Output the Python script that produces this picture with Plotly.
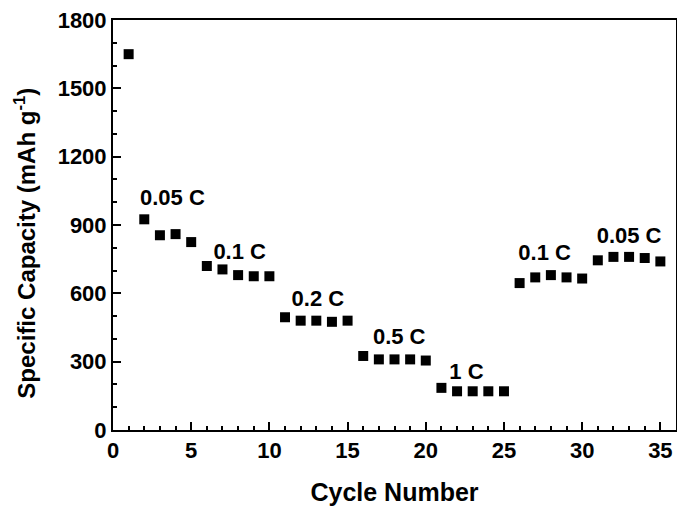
import plotly.graph_objects as go

cycles = list(range(1, 36))
capacity = [1650, 925, 855, 860, 825, 720, 705, 680, 675, 675,
            495, 480, 480, 475, 480, 325, 310, 310, 310, 305,
            185, 170, 170, 170, 170, 645, 670, 680, 670, 665,
            745, 760, 760, 755, 740]

rate_labels = ["0.05 C", "0.1 C", "0.2 C", "0.5 C", "1 C", "0.1 C", "0.05 C"]
label_x = [3.8, 8.1, 13.1, 18.3, 22.6, 27.6, 33.0]
label_y = [1010, 775, 570, 400, 250, 770, 845]

font_family = "Liberation Sans, Arial, sans-serif"

fig = go.Figure()
fig.add_trace(go.Scatter(
    x=cycles, y=capacity, mode="markers",
    marker=dict(symbol="square", size=10, color="black"),
    showlegend=False,
))
fig.add_trace(go.Scatter(
    x=label_x, y=label_y, mode="text", text=[f"<b>{t}</b>" for t in rate_labels],
    textfont=dict(family=font_family, size=22, color="black"),
    showlegend=False, hoverinfo="skip",
))

axis_common = dict(
    showline=True, linecolor="black", linewidth=2, mirror=True,
    ticks="inside", ticklen=8, tickwidth=2, tickcolor="black",
    showgrid=False, zeroline=False, automargin=False,
    ticklabeloverflow="allow",
    tickfont=dict(family=font_family, size=22, color="black"),
)

fig.update_xaxes(
    range=[0, 36], tickmode="array", tickvals=[0, 5, 10, 15, 20, 25, 30, 35],
    ticktext=["<b>%d</b>" % v for v in [0, 5, 10, 15, 20, 25, 30, 35]],
    minor=dict(dtick=1, ticks="inside", ticklen=4, tickwidth=1.5, tickcolor="black"),
    title=dict(text="<b>Cycle Number</b>", font=dict(family=font_family, size=25, color="black"), standoff=21),
    **axis_common,
)
fig.update_yaxes(
    range=[0, 1800], tickmode="array", tickvals=[0, 300, 600, 900, 1200, 1500, 1800],
    ticktext=["<b>%d</b>" % v for v in [0, 300, 600, 900, 1200, 1500, 1800]],
    minor=dict(dtick=100, ticks="inside", ticklen=4, tickwidth=1.5, tickcolor="black"),
    **axis_common,
)

fig.add_annotation(
    text="<b>Specific Capacity (mAh g<sup>-1</sup>)</b>",
    xref="paper", yref="paper", x=-0.157, y=0.456,
    xanchor="center", yanchor="middle", textangle=-90, showarrow=False,
    borderpad=0,
    font=dict(family=font_family, size=24, color="black"),
)

fig.update_layout(
    width=685, height=514,
    margin=dict(l=105, r=17, t=12, b=92),
    plot_bgcolor="white", paper_bgcolor="white",
)

fig.write_html("out.html")
